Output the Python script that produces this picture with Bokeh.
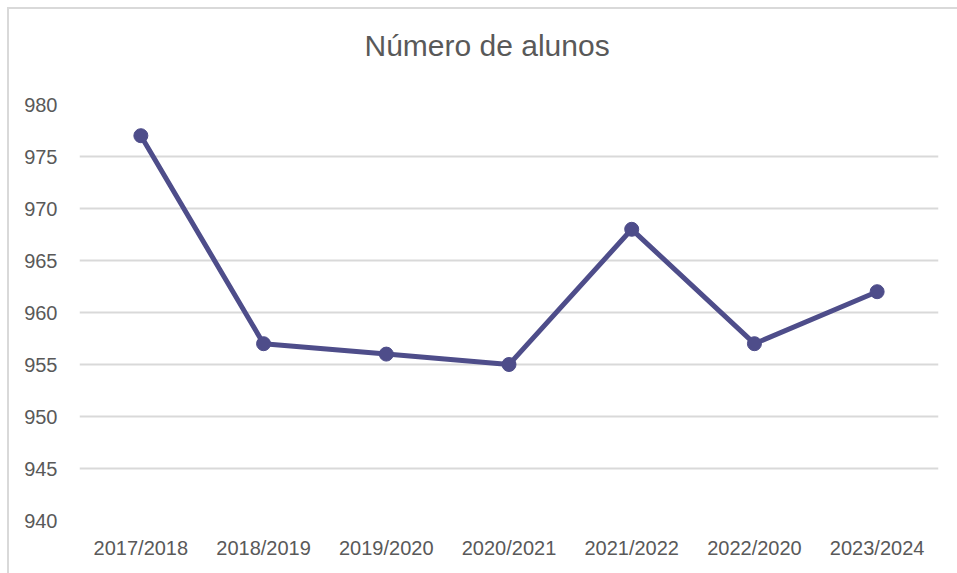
from bokeh.plotting import figure
from bokeh.models import Range1d, FixedTicker, Title
from bokeh.embed import file_html
from bokeh.resources import INLINE

categories = ["2017/2018", "2018/2019", "2019/2020", "2020/2021", "2021/2022", "2022/2020", "2023/2024"]
alunos = [977, 957, 956, 955, 968, 957, 962]
y_ticks = [940, 945, 950, 955, 960, 965, 970, 975, 980]
title_text = "Número de alunos"

FONT = "Liberation Sans"
TXT = "#595959"
LINE = "#4E4D8A"

p = figure(x_range=categories, y_range=Range1d(940, 980),
           width=948, height=564, output_backend="svg", toolbar_location=None,
           min_border_left=70, min_border_right=19, min_border_top=95, min_border_bottom=53)
p.frame_width = 859
p.frame_height = 416

# spacer between frame and title
p.add_layout(Title(text=" ", text_font_size="10px", standoff=10), "above")
p.add_layout(Title(text=title_text, align="left", vertical_align="top", offset=285,
                   text_font=FONT, text_font_size="30px", text_font_style="normal",
                   text_color=TXT, standoff=36), "above")

p.line(categories, alunos, line_color=LINE, line_width=5)
p.scatter(categories, alunos, size=14, fill_color=LINE, line_color=LINE)

p.outline_line_color = None
p.xgrid.grid_line_color = None
p.ygrid.grid_line_color = "#d9d9d9"
p.ygrid.grid_line_width = 2
p.yaxis.ticker = FixedTicker(ticks=y_ticks)

for ax in (p.xaxis[0], p.yaxis[0]):
    ax.axis_line_color = None
    ax.major_tick_line_color = None
    ax.minor_tick_line_color = None
    ax.major_label_text_font = FONT
    ax.major_label_text_font_size = "20px"
    ax.major_label_text_color = TXT
p.yaxis.major_label_standoff = 16
p.xaxis.major_label_standoff = 10
p.x_range.range_padding = 0

p.styles = {"border-left": "2px solid #d9d9d9", "border-top": "2px solid #d9d9d9",
            "margin-left": "7px", "margin-top": "7px"}

open("out.html", "w").write(file_html(p, INLINE))
